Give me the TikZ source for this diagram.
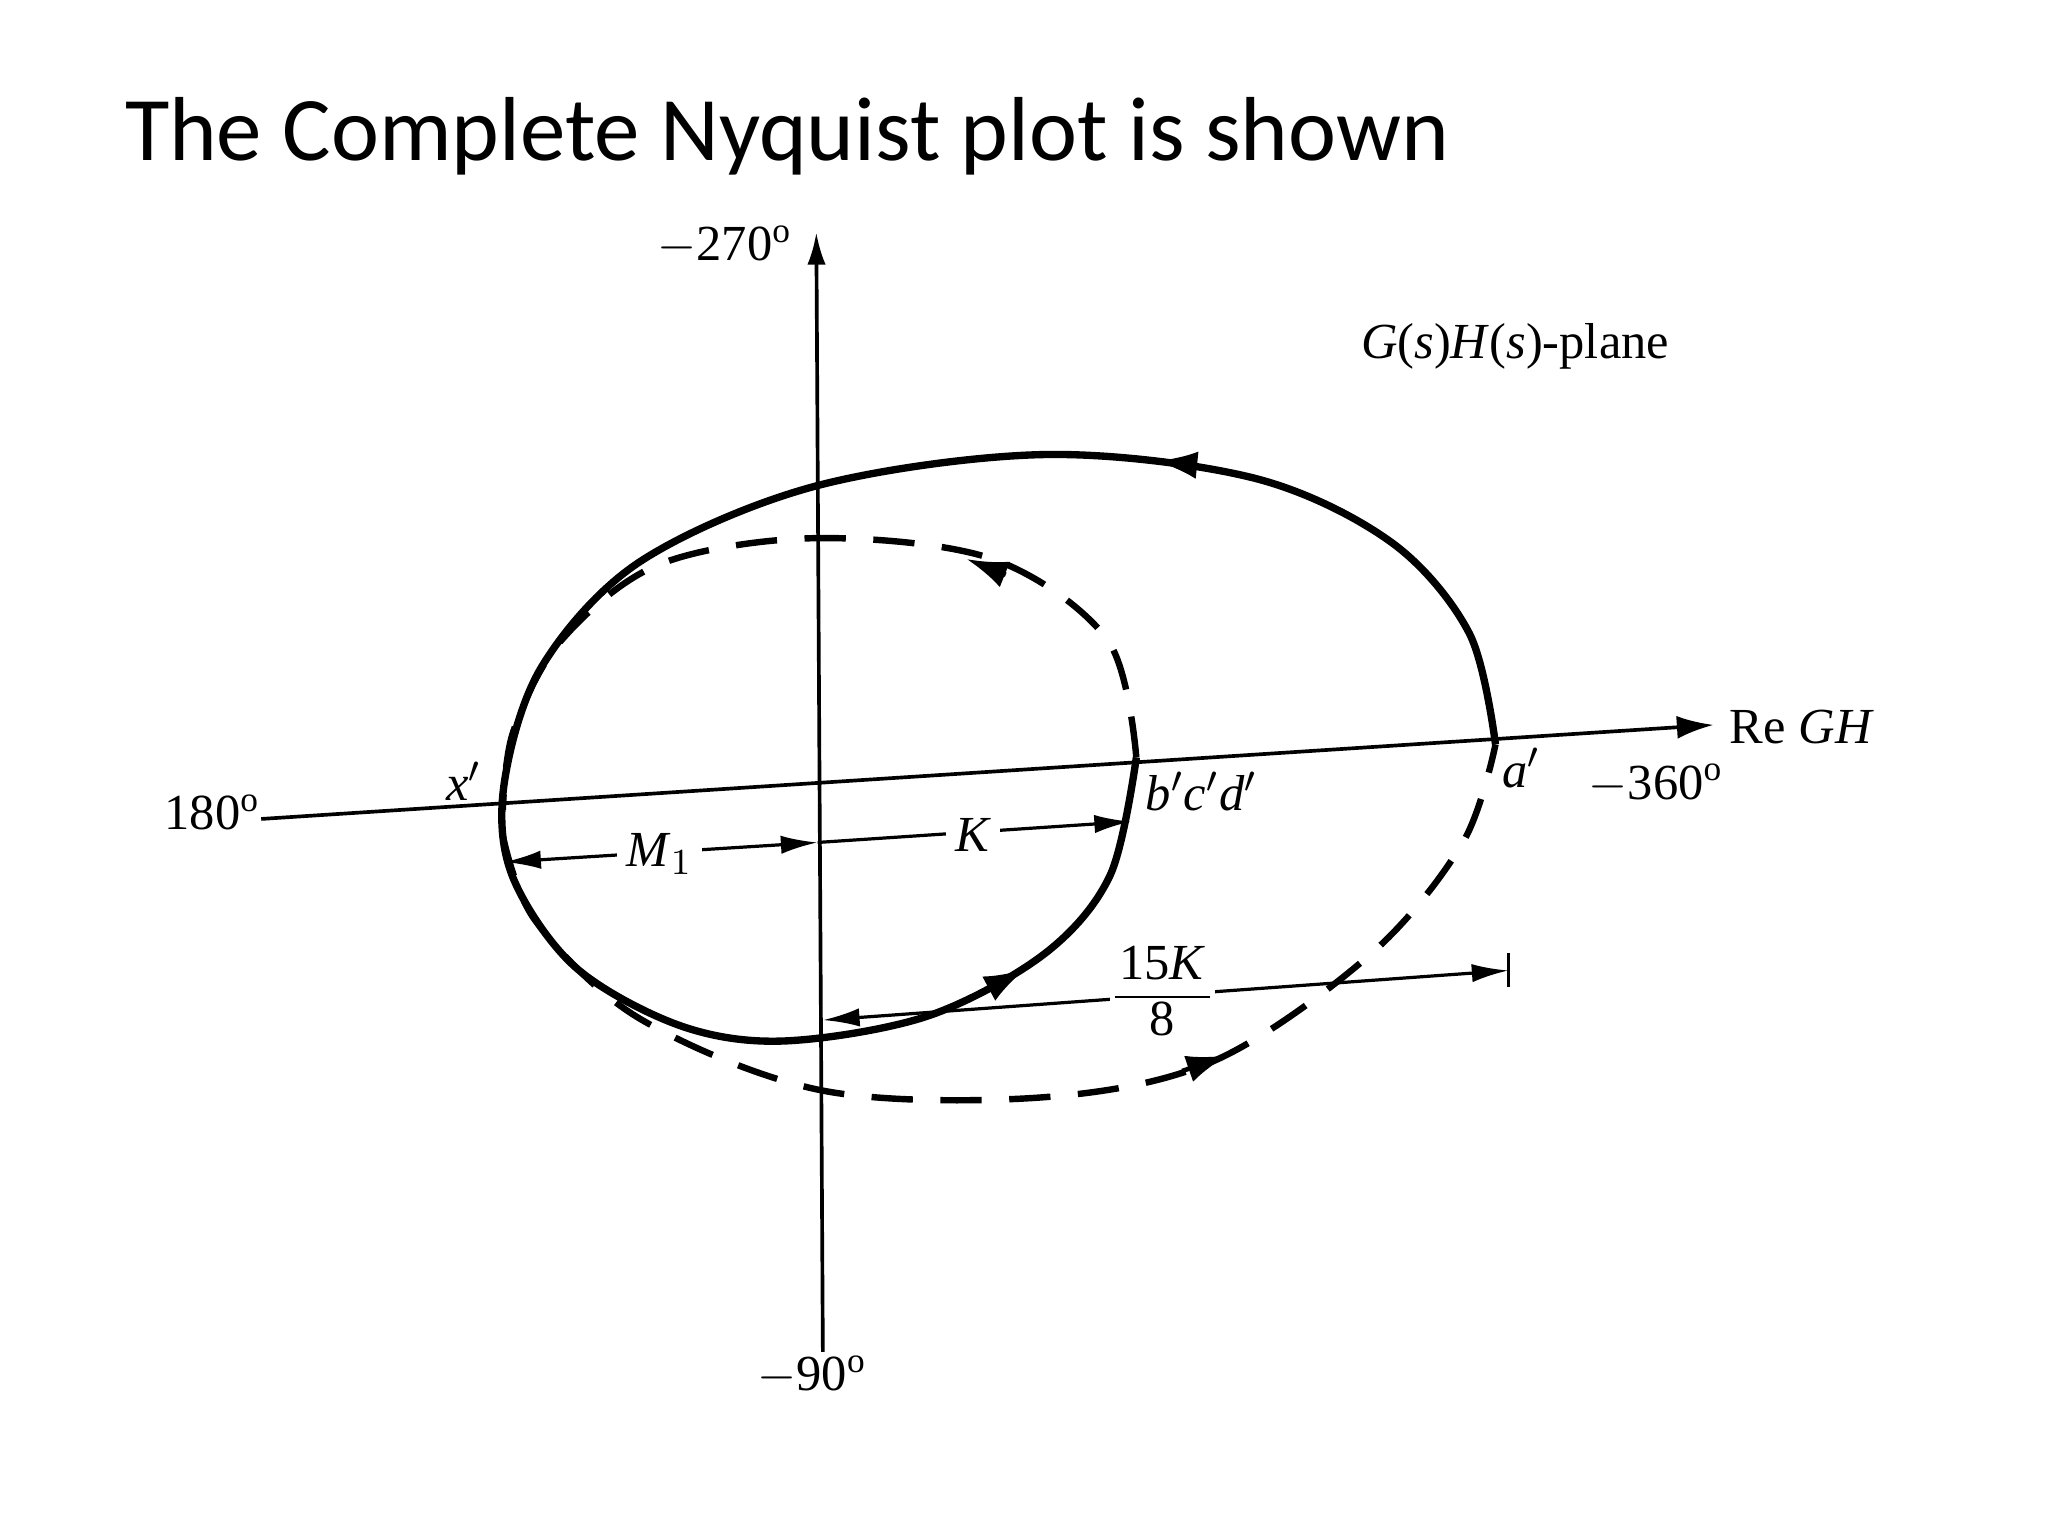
\documentclass[tikz,border=0pt]{standalone}
\usepackage{fontspec}
\setmainfont{Liberation Serif}
\newfontfamily\titlefont{Carlito}
\usetikzlibrary{arrows.meta}
\tikzset{
  curve/.style={line width=1.6pt},
  dcurve/.style={line width=1.4pt, dash pattern=on 9pt off 6pt},
  axis/.style={line width=0.8pt},
  dim/.style={line width=0.7pt},
  tipm/.style={-{Latex[length=9pt,width=6pt]}, line width=1pt},
  lbl/.style={font=\fontsize{11}{13}\selectfont},
}
\begin{document}
\begin{tikzpicture}[x=0.1mm,y=-0.1mm]
\useasboundingbox (0,0) rectangle (1568,1176);
\node[font=\titlefont\fontsize{19.8}{24}\selectfont, anchor=base west, inner sep=0pt] (title) at (95,123) {The Complete Nyquist plot is shown};
% axes
\coordinate (vb) at (630,1035); \coordinate (vt) at (625,178);
\draw[axis,-{Latex[length=7pt,width=4pt]}] (vb) -- (vt);
\coordinate (hl) at (200,627); \coordinate (hr) at (1312,555);
\draw[axis,-{Latex[length=8pt,width=5pt]}] (hl) -- (hr);
\node[lbl, anchor=east,inner sep=0pt] (l180) at (200,622) {180$^{\mathrm o}$};
\node[lbl, anchor=west] (re) at (1312,557) {Re \textit{GH}};
\node[lbl] (l270) at (555,188) {$-$270$^{\mathrm o}$};
\node[lbl] (l90) at (622,1053) {$-$90$^{\mathrm o}$};
\node[lbl] (l360) at (1268,600) {$-$360$^{\mathrm o}$};
\node[lbl] (plane) at (1160,265) {\textit{G}(\textit{s})\textit{H}(\textit{s})-plane};
\node[lbl] (xp) at (355,598) {\textit{x}$'$};
\node[lbl] (bcd) at (920,606) {\textit{b}$'$\textit{c}$'$\textit{d}$'$};
\node[lbl] (ap) at (1165,588) {\textit{a}$'$};
% solid curve
\coordinate (A) at (1145,570); \coordinate (B) at (870,580);
\draw[curve] plot[smooth, tension=0.55] coordinates {(A) (1125,485) (1065,415) (960,366) (800,348) (625,372) (490,430) (415,510) (386,600) (392,670) (440,740) (520,785) (600,797) (710,778) (800,730) (850,670) (B)};
% dashed curve
\draw[dcurve] plot[smooth, tension=0.55] coordinates {(B) (848,490) (760,428) (625,412) (505,432) (430,490) (393,560) (385,620)};
\draw[dcurve] plot[smooth, tension=0.55] coordinates {(385,640) (410,705) (490,780) (630,835) (800,840) (930,812) (1050,730) (1120,645) (A)};
% direction arrows
\draw[tipm] (915,356) -- (885,353);
\draw[tipm] (755,758) -- (785,742);
\draw[tipm] (770,440) -- (740,428);
\draw[tipm] (905,820) -- (940,808);
% dimension lines
\coordinate (m0) at (386,660); \coordinate (m1) at (626,645); \coordinate (k1) at (866,629);
\draw[dim,{Latex[length=8pt,width=4pt]}-{Latex[length=8pt,width=4pt]}] (m0) -- (m1);
\draw[dim,-{Latex[length=8pt,width=4pt]}] (m1) -- (k1);
\node[lbl, fill=white, inner sep=2pt] (M1) at (505,654) {\textit{M}$_{1}$};
\node[lbl, fill=white, inner sep=2pt] (K) at (745,639) {\textit{K}};
\coordinate (f0) at (630,781); \coordinate (f1) at (1155,743);
\draw[dim,{Latex[length=8pt,width=4pt]}-{Latex[length=8pt,width=4pt]}] (f0) -- (f1);
\draw[dim] (1155,730) -- (1155,756);
\node[lbl, fill=white, inner sep=1pt] (fr) at (890,763) {\renewcommand{\arraystretch}{0.9}\setlength{\tabcolsep}{1pt}\begin{tabular}{c}15\textit{K}\\\hline 8\end{tabular}};
\end{tikzpicture}
\end{document}
